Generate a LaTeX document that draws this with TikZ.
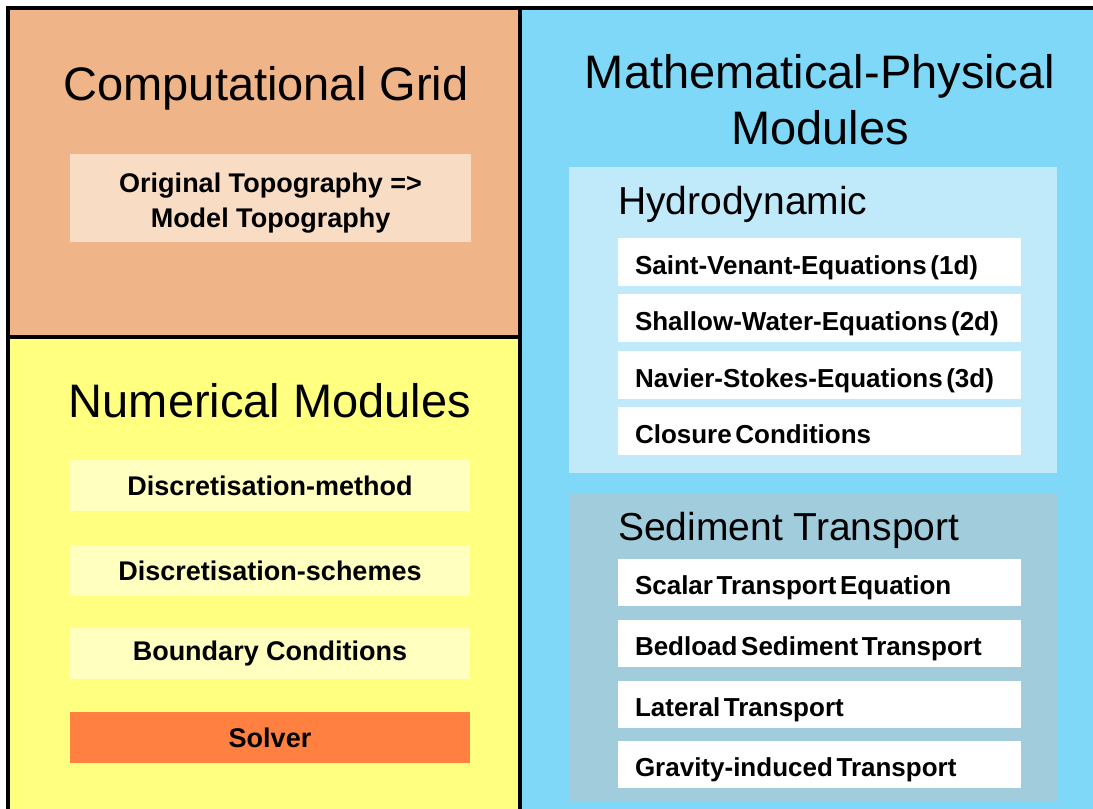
\documentclass[tikz,border=0pt]{standalone}
\usepackage{fontspec}
\setmainfont{Liberation Sans}
\newcommand\tightsp{\spaceskip=3.6pt plus 1pt minus 1pt\relax}
\definecolor{gridorange}{RGB}{239,180,135}
\definecolor{gridlight}{RGB}{248,220,196}
\definecolor{numyellow}{RGB}{255,255,128}
\definecolor{numlight}{RGB}{255,255,192}
\definecolor{solverorange}{RGB}{255,128,64}
\definecolor{mathblue}{RGB}{128,216,248}
\definecolor{hydroblue}{RGB}{192,234,250}
\definecolor{sedblue}{RGB}{160,204,220}
\begin{document}
\begin{tikzpicture}[x=1pt,y=-1pt,
  area/.style={draw=none,inner sep=0pt,outer sep=0pt,anchor=north west},
  bigtitle/.style={font=\fontsize{47}{56}\selectfont,align=center,inner sep=0pt},
  subtitle/.style={font=\fontsize{39}{46}\selectfont,anchor=base west,inner sep=0pt},
  leftbox/.style={area,fill=numlight,minimum width=400pt,minimum height=51pt,
    font=\bfseries\fontsize{27}{33}\selectfont,anchor=north west},
  rightbox/.style={area,fill=white,minimum width=403pt,minimum height=48pt,
    text width=369pt,align=left,
    font=\bfseries\fontsize{26}{30}\selectfont,
    execute at begin node=\tightsp,
    inner xsep=17pt,text height=24pt,text depth=0pt,anchor=north west},
  border/.style={line width=4pt,black}
]
\useasboundingbox (0,0) rectangle (1093,809);
% panels
\node[area,fill=gridorange,minimum width=512pt,minimum height=329pt] (gridpanel) at (8,8) {};
\node[area,fill=numyellow,minimum width=512pt,minimum height=472pt] (numpanel) at (8,337) {};
\node[area,fill=mathblue,minimum width=573pt,minimum height=801pt] (mathpanel) at (520,8) {};
% computational grid
\node[bigtitle,anchor=base] (gridtitle) at (266,100) {Computational Grid};
\node[area,fill=gridlight,minimum width=401pt,minimum height=88pt] (topo) at (70,154) {};
\node[font=\bfseries\fontsize{27}{35}\selectfont,align=center,inner sep=0pt]
  (topotext) at ([yshift=-5pt]topo.center) {Original Topography =>\\Model Topography};
% numerical modules
\node[bigtitle,anchor=base] (numtitle) at (270,417) {Numerical Modules};
\node[leftbox] (dmethod) at (70,460) {Discretisation-method};
\node[leftbox] (dschemes) at (70,545) {Discretisation-schemes};
\node[leftbox] (boundary) at (70,628) {Boundary Conditions};
\node[leftbox,fill=solverorange] (solver) at (70,712) {Solver};
% mathematical-physical modules
\node[bigtitle] (mathtitle) at (820,100) {Mathematical-Physical\\Modules};
\node[area,fill=hydroblue,minimum width=488pt,minimum height=306pt] (hydropanel) at (569,167) {};
\node[subtitle] (hydrotitle) at (618,214) {Hydrodynamic};
\node[rightbox] (saint) at (618,238) {Saint-Venant-Equations (1d)};
\node[rightbox] (shallow) at (618,294) {Shallow-Water-Equations (2d)};
\node[rightbox] (navier) at (618,351) {Navier-Stokes-Equations (3d)};
\node[rightbox] (closure) at (618,407) {Closure Conditions};
\node[area,fill=sedblue,minimum width=488pt,minimum height=308pt] (sedpanel) at (569,493) {};
\node[subtitle] (sedtitle) at (618,540) {Sediment Transport};
\node[rightbox,minimum height=47pt] (scalar) at (618,559) {Scalar Transport Equation};
\node[rightbox,minimum height=47pt] (bedload) at (618,620) {Bedload Sediment Transport};
\node[rightbox,minimum height=47pt] (lateral) at (618,681) {Lateral Transport};
\node[rightbox,minimum height=47pt] (gravity) at (618,741) {Gravity-induced Transport};
% borders
\draw[border] (gridpanel.north west) ++(-2,0) -- (mathpanel.north east);
\draw[border] (gridpanel.north west) ++(0,-2) -- (numpanel.south west);
\draw[border] (gridpanel.north east) -- (numpanel.south east);
\draw[border] (gridpanel.south west) -- (gridpanel.south east);
\end{tikzpicture}
\end{document}
